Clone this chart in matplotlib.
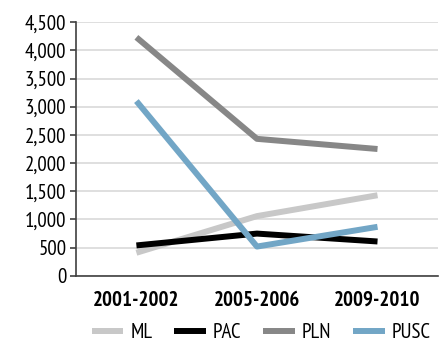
import matplotlib.pyplot as plt

years = ["2001-2002", "2005-2006", "2009-2010"]
ml = [410, 1060, 1430]
pac = [540, 750, 610]
pln = [4230, 2430, 2250]
pusc = [3100, 520, 870]

plt.rcParams['font.family'] = ['PT Sans Narrow', 'DejaVu Sans']

fig = plt.figure(figsize=(4.4, 3.51), dpi=100)
ax = fig.add_axes([0.173, 0.214, 0.822, 0.723])

x = range(len(years))
ax.plot(x, ml, color="#c8c8c8", lw=4.3, label="ML", solid_capstyle="butt")
ax.plot(x, pac, color="#000000", lw=4.3, label="PAC", solid_capstyle="butt")
ax.plot(x, pln, color="#878787", lw=4.3, label="PLN", solid_capstyle="butt")
ax.plot(x, pusc, color="#72a6c6", lw=4.3, label="PUSC", solid_capstyle="butt")

ax.set_xlim(-0.5, 2.5)
ax.set_ylim(0, 4500)
ax.set_yticks(range(0, 4501, 500))
ax.set_yticklabels([f"{v:,}" for v in range(0, 4501, 500)], fontsize=15)
ax.set_xticks(list(x))
ax.set_xticklabels(years, fontsize=15, fontweight="bold")
ax.yaxis.grid(True, color="#d9d9d9", lw=1.2)
ax.set_axisbelow(True)
for s in ["top", "right"]:
    ax.spines[s].set_visible(False)
ax.spines["left"].set_color("#404040")
ax.spines["bottom"].set_color("#404040")
ax.spines["left"].set_linewidth(1.2)
ax.spines["bottom"].set_linewidth(1.2)
ax.tick_params(axis="x", length=0, pad=11)
ax.tick_params(axis="y", length=4, width=1.2, color="#404040", pad=3)

fig.legend(loc="center", bbox_to_anchor=(0.594, 0.052), ncol=4, frameon=False,
           fontsize=15, handlelength=1.5, columnspacing=1.05, handletextpad=0.35)
fig.savefig("out.png", dpi=100)
